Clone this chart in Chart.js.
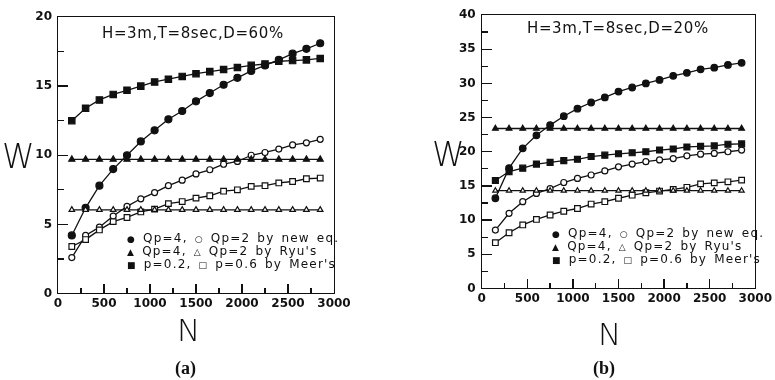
<!DOCTYPE html>
<html>
<head>
<meta charset="utf-8">
<script src="https://cdn.jsdelivr.net/npm/chart.js@4"></script>
<style>
  body { margin: 0; background: #fff; width: 775px; height: 380px; position: relative; overflow: hidden; font-family: "DejaVu Sans", sans-serif; color: #111; }
  .box { position: absolute; top: 0; height: 380px; }
  .txt { position: absolute; white-space: nowrap; line-height: 1; }
  .W { font-size: 33px; font-weight: 200; }
  .N { font-size: 31px; font-weight: 200; }
  .cap { font-family: "Liberation Serif", serif; font-size: 18px; font-weight: bold; }
  .ttl { font-size: 15px; letter-spacing: 0.6px; }
  .leg { font-size: 12px; letter-spacing: 1.2px; word-spacing: 2px; }
  .leg div { height: 13px; }
  .m { font-size: 9px; }
  .edge { position: absolute; box-sizing: border-box; border: 1.5px solid #111; pointer-events: none; }
  .tk { position: absolute; background: #111; pointer-events: none; }
</style>
</head>
<body>
<div class="box" style="left:0;width:387px"><canvas id="chartA"></canvas></div>
<div class="box" style="left:387px;width:388px"><canvas id="chartB"></canvas></div>

<div class="txt W" style="left:2px;top:140px">W</div>
<div class="txt W" style="left:432px;top:138px">W</div>
<div class="txt N" style="left:177px;top:315px">N</div>
<div class="txt N" style="left:598px;top:319px">N</div>
<div class="txt cap" style="left:175px;top:359px">(a)</div>
<div class="txt cap" style="left:593px;top:359px">(b)</div>
<div class="txt ttl" style="left:102px;top:26px">H=3m,T=8sec,D=60%</div>
<div class="txt ttl" style="left:527px;top:21px">H=3m,T=8sec,D=20%</div>

<div class="txt leg" style="left:127px;top:232px">
  <div><span class="m">●</span> Qp=4, <span class="m">○</span> Qp=2 by new eq.</div>
  <div><span class="m">▲</span> Qp=4, <span class="m">△</span> Qp=2 by Ryu's</div>
  <div><span class="m">■</span> p=0.2, <span class="m">□</span> p=0.6 by Meer's</div>
</div>
<div class="txt leg" style="left:552px;top:227px">
  <div><span class="m">●</span> Qp=4, <span class="m">○</span> Qp=2 by new eq.</div>
  <div><span class="m">▲</span> Qp=4, <span class="m">△</span> Qp=2 by Ryu's</div>
  <div><span class="m">■</span> p=0.2, <span class="m">□</span> p=0.6 by Meer's</div>
</div>

<script>
// N values (same for both panels)
const nValues = [150, 300, 450, 600, 750, 900, 1050, 1200, 1350, 1500, 1650, 1800, 1950, 2100, 2250, 2400, 2550, 2700, 2850];
const xTicks = [0, 500, 1000, 1500, 2000, 2500, 3000];
const yTicksA = [0, 5, 10, 15, 20];
const yTicksB = [0, 5, 10, 15, 20, 25, 30, 35, 40];

// (a) D=60%
const newQp4A = [4.2, 6.2, 7.8, 9.0, 10.0, 11.0, 11.8, 12.6, 13.2, 13.9, 14.5, 15.1, 15.6, 16.1, 16.5, 16.9, 17.35, 17.7, 18.1];
const newQp2A = [2.6, 4.2, 4.8, 5.6, 6.3, 6.85, 7.3, 7.8, 8.2, 8.65, 8.95, 9.35, 9.55, 10.0, 10.2, 10.45, 10.75, 10.9, 11.15];
const ryuQp4A = [9.7, 9.7, 9.7, 9.7, 9.7, 9.7, 9.7, 9.7, 9.7, 9.7, 9.7, 9.7, 9.7, 9.7, 9.7, 9.7, 9.7, 9.7, 9.7];
const ryuQp2A = [6.05, 6.05, 6.05, 6.05, 6.05, 6.05, 6.05, 6.05, 6.05, 6.05, 6.05, 6.05, 6.05, 6.05, 6.05, 6.05, 6.05, 6.05, 6.05];
const meerP02A = [12.5, 13.4, 14.0, 14.4, 14.7, 15.0, 15.3, 15.5, 15.7, 15.9, 16.05, 16.2, 16.35, 16.5, 16.6, 16.8, 16.85, 16.9, 17.0];
const meerP06A = [3.4, 3.9, 4.6, 5.2, 5.5, 5.9, 6.1, 6.5, 6.65, 6.9, 7.07, 7.4, 7.5, 7.75, 7.8, 8.0, 8.1, 8.3, 8.35];

// (b) D=20%
const newQp4B = [13.2, 17.6, 20.5, 22.4, 23.9, 25.2, 26.3, 27.2, 27.95, 28.8, 29.4, 30.0, 30.5, 31.1, 31.55, 32.05, 32.3, 32.7, 33.0];
const newQp2B = [8.55, 11.0, 12.7, 13.9, 14.6, 15.5, 16.1, 16.6, 17.2, 17.8, 18.2, 18.55, 18.8, 19.0, 19.4, 19.65, 19.75, 20.0, 20.25];
const ryuQp4B = [23.4, 23.4, 23.4, 23.4, 23.4, 23.4, 23.4, 23.4, 23.4, 23.4, 23.4, 23.4, 23.4, 23.4, 23.4, 23.4, 23.4, 23.4, 23.4];
const ryuQp2B = [14.3, 14.3, 14.3, 14.3, 14.3, 14.3, 14.3, 14.3, 14.3, 14.3, 14.3, 14.3, 14.3, 14.3, 14.3, 14.3, 14.3, 14.3, 14.3];
const meerP02B = [15.8, 17.1, 17.6, 18.2, 18.45, 18.7, 18.9, 19.3, 19.5, 19.7, 19.85, 20.0, 20.25, 20.4, 20.7, 20.8, 20.85, 21.1, 21.15];
const meerP06B = [6.7, 8.15, 9.3, 10.1, 10.75, 11.3, 11.7, 12.35, 12.7, 13.2, 13.65, 14.0, 14.25, 14.5, 14.8, 15.3, 15.45, 15.6, 15.85];

const ink = "#111";

function series(vals, style, open, r) {
  return {
    data: vals.map((v, i) => ({ x: nValues[i], y: v })),
    showLine: true,
    borderColor: ink,
    borderWidth: 1.3,
    pointStyle: style,
    pointRadius: r,
    pointBorderWidth: 1.2,
    pointBorderColor: ink,
    pointBackgroundColor: open ? "#fff" : ink,
  };
}

function makeChart(id, sets, yTicks, pad, xHeight) {
  const tickFont = { family: "DejaVu Sans", size: 12, weight: "bold" };
  return new Chart(document.getElementById(id), {
    type: "scatter",
    data: { datasets: sets },
    options: {
      responsive: true,
      maintainAspectRatio: false,
      animation: false,
      events: [],
      layout: { padding: pad },
      plugins: { legend: { display: false }, tooltip: { enabled: false } },
      scales: {
        x: {
          type: "linear",
          min: 0,
          max: 3000,
          grid: { display: false, drawTicks: false },
          border: { display: false },
          afterBuildTicks: (s) => { s.ticks = xTicks.map((v) => ({ value: v })); },
          afterFit: (s) => { s.height = xHeight; },
          ticks: { color: ink, font: tickFont, padding: 3, callback: (v) => String(v) },
        },
        y: {
          min: 0,
          max: yTicks[yTicks.length - 1],
          grid: { display: false, drawTicks: false },
          border: { display: false },
          afterBuildTicks: (s) => { s.ticks = yTicks.map((v) => ({ value: v })); },
          afterFit: (s) => { s.width = 58; },
          ticks: { color: ink, font: tickFont, padding: 6, callback: (v) => String(v) },
        },
      },
    },
  });
}

// plot frame and inward tick marks, placed from the chart's own scales
function addFrame(chart, offX) {
  const a = chart.chartArea;
  const sx = chart.scales.x;
  const sy = chart.scales.y;
  const put = (cls, l, t, w, h) => {
    const d = document.createElement("div");
    d.className = cls;
    d.style.left = l + "px";
    d.style.top = t + "px";
    d.style.width = w + "px";
    d.style.height = h + "px";
    document.body.appendChild(d);
  };
  put("edge", offX + a.left - 0.75, a.top - 0.75, a.right - a.left + 1.5, a.bottom - a.top + 1.5);
  for (let v = 250; v < 3000; v += 250) {
    const len = v % 500 === 0 ? 10 : 6;
    put("tk", offX + sx.getPixelForValue(v) - 0.65, a.bottom - len, 1.3, len);
  }
  for (let v = 2.5; v < sy.max; v += 2.5) {
    const len = v % 5 === 0 ? 10 : 6;
    put("tk", offX + a.left, sy.getPixelForValue(v) - 0.65, len, 1.3);
  }
}

const chartA = makeChart("chartA", [
  series(ryuQp4A, "triangle", false, 3.5),
  series(ryuQp2A, "triangle", true, 3.2),
  series(meerP02A, "rect", false, 4.5),
  series(meerP06A, "rect", true, 4),
  series(newQp2A, "circle", true, 3),
  series(newQp4A, "circle", false, 3.5),
], yTicksA, { left: 0, top: 17, right: 53, bottom: 0 }, 86.5);

const chartB = makeChart("chartB", [
  series(ryuQp4B, "triangle", false, 3.3),
  series(ryuQp2B, "triangle", true, 3),
  series(meerP02B, "rect", false, 4.2),
  series(meerP06B, "rect", true, 4),
  series(newQp2B, "circle", true, 3),
  series(newQp4B, "circle", false, 3.3),
], yTicksB, { left: 36.7, top: 15, right: 17.3, bottom: 0 }, 91.5);

addFrame(chartA, 0);
addFrame(chartB, 387);
</script>
</body>
</html>
